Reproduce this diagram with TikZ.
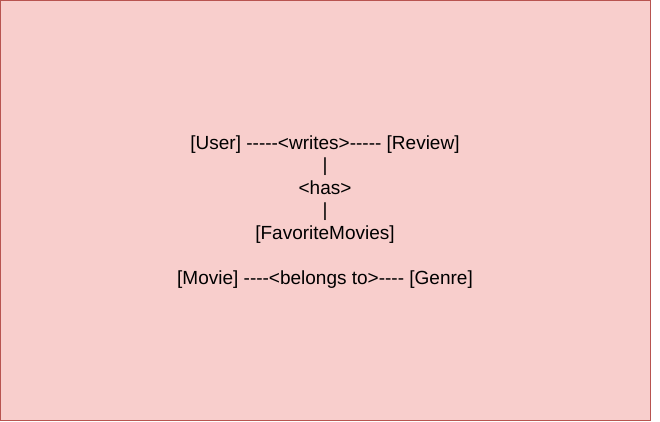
\documentclass[tikz,border=0pt]{standalone}
\usepackage{fontspec}
\setmainfont{Liberation Sans}
\definecolor{boxfill}{HTML}{F8CECC}
\definecolor{boxline}{HTML}{B85450}
% a hyphen that is never merged into an en or em dash
\newcommand\hy{-\kern0pt}
\begin{document}
\begin{tikzpicture}[x=0.75pt,y=-0.75pt,
  frame/.style={draw=boxline, fill=boxfill, line width=0.75pt, outer sep=0pt,
    inner sep=0pt, minimum width=487.5pt, minimum height=315pt, anchor=north west},
  txt/.style={anchor=base, inner sep=0pt, font=\fontsize{14.25}{17}\selectfont}]
\useasboundingbox (0,0) rectangle (660,421);
\node[frame] (panel) at (0.5,0.5) {};
% text lines of the schema, one node per line
\node[txt] (l1) at (325,149) {[User] \hy\hy\hy\hy\hy<writes>\hy\hy\hy\hy\hy{} [Review]};
\node[txt] (l2) at (325,171.5) {|};
\node[txt] (l3) at (325,194) {<has>};
\node[txt] (l4) at (325,216.5) {|};
\node[txt] (l5) at (325,239) {[FavoriteMovies]};
\node[txt] (l7) at (325,284) {[Movie] \hy\hy\hy\hy<belongs to>\hy\hy\hy\hy{} [Genre]};
\end{tikzpicture}
\end{document}
